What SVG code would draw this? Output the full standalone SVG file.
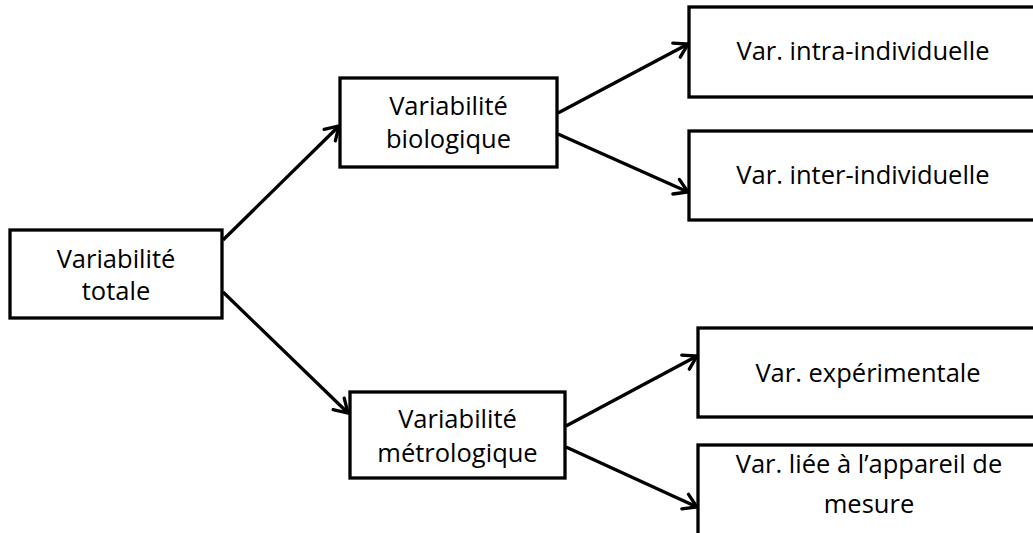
<svg xmlns="http://www.w3.org/2000/svg" width="1033" height="533" viewBox="0 0 1033 533">
  <style>
    .box { fill: #ffffff; stroke: #000000; stroke-width: 3.3; }
    .lbl { font-family: "Open Sans", "Liberation Sans", sans-serif; font-size: 25.5px; fill: #000000; text-anchor: middle; }
    .conn { stroke: #000000; stroke-width: 3.3; fill: none; marker-end: url(#arrow); }
  </style>
  <defs>
    <marker id="arrow" markerUnits="userSpaceOnUse" markerWidth="28" markerHeight="28" viewBox="-18 -14 22 28" refX="-1" refY="0" orient="auto">
      <path d="M-14,-8 L-1,0 L-14,8" fill="none" stroke="#000000" stroke-width="3.3" stroke-linecap="round" stroke-linejoin="miter"/>
    </marker>
  </defs>
  <rect width="1033" height="533" fill="#ffffff"/>
  <g id="connectors">
    <line class="conn" x1="223" y1="240" x2="339" y2="126"/>
    <line class="conn" x1="223" y1="292" x2="348" y2="413"/>
    <line class="conn" x1="558" y1="113" x2="688" y2="44"/>
    <line class="conn" x1="558" y1="134" x2="688" y2="192"/>
    <line class="conn" x1="566" y1="426" x2="697" y2="356"/>
    <line class="conn" x1="566" y1="447" x2="697" y2="507"/>
  </g>
  <g id="node-total">
    <rect class="box" x="10" y="230" width="212" height="88"/>
    <text class="lbl" x="116" y="268">Variabilité</text>
    <text class="lbl" x="116" y="300">totale</text>
  </g>
  <g id="node-biologique">
    <rect class="box" x="340" y="78" width="217" height="89"/>
    <text class="lbl" x="448.5" y="115">Variabilité</text>
    <text class="lbl" x="448.5" y="148">biologique</text>
  </g>
  <g id="node-metrologique">
    <rect class="box" x="350" y="392" width="215" height="86"/>
    <text class="lbl" x="457.5" y="428">Variabilité</text>
    <text class="lbl" x="457.5" y="462">métrologique</text>
  </g>
  <g id="node-intra">
    <rect class="box" x="689" y="7" width="350" height="90"/>
    <text class="lbl" x="863" y="60">Var. intra-individuelle</text>
  </g>
  <g id="node-inter">
    <rect class="box" x="689" y="131" width="350" height="89"/>
    <text class="lbl" x="863" y="184">Var. inter-individuelle</text>
  </g>
  <g id="node-experimentale">
    <rect class="box" x="698" y="328" width="342" height="89"/>
    <text class="lbl" x="868" y="382">Var. expérimentale</text>
  </g>
  <g id="node-appareil">
    <rect class="box" x="698" y="445" width="342" height="92"/>
    <text class="lbl" x="869" y="473">Var. liée à l’appareil de</text>
    <text class="lbl" x="869" y="513">mesure</text>
  </g>
</svg>
